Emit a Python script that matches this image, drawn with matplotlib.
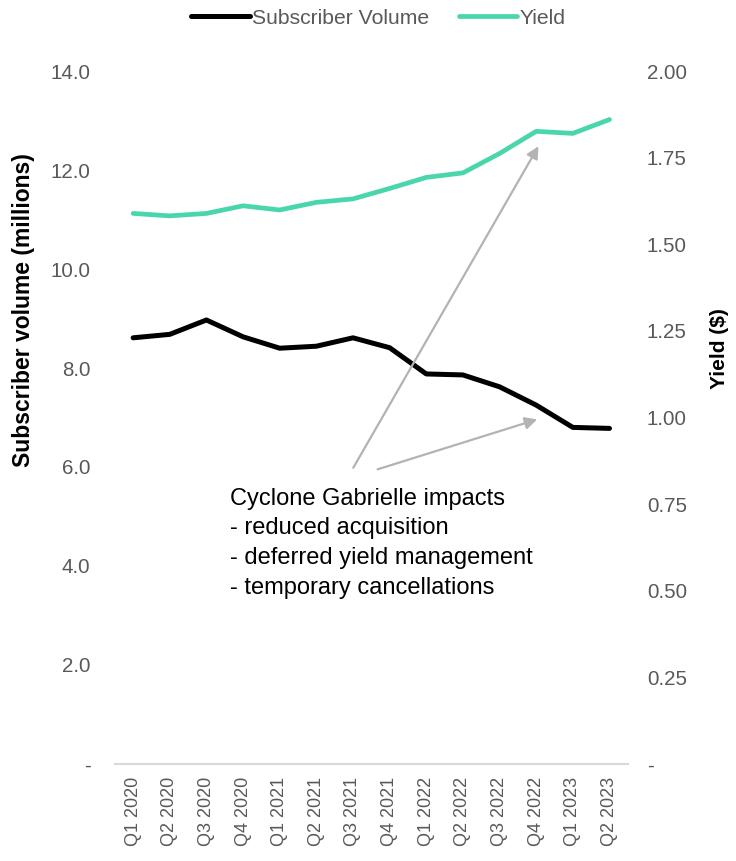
import matplotlib.pyplot as plt
from matplotlib.ticker import FuncFormatter

plt.rcParams['font.family'] = ['Liberation Sans', 'DejaVu Sans']

# quarters and values
quarters = ['Q1 2020', 'Q2 2020', 'Q3 2020', 'Q4 2020',
            'Q1 2021', 'Q2 2021', 'Q3 2021', 'Q4 2021',
            'Q1 2022', 'Q2 2022', 'Q3 2022', 'Q4 2022',
            'Q1 2023', 'Q2 2023']
subscribers = [8.61, 8.68, 8.97, 8.63, 8.40, 8.44, 8.61, 8.41,
               7.88, 7.86, 7.62, 7.25, 6.80, 6.78]
yield_usd = [1.589, 1.582, 1.589, 1.611, 1.599, 1.621, 1.631, 1.661,
             1.693, 1.706, 1.762, 1.826, 1.820, 1.860]

note = ('Cyclone Gabrielle impacts\n- reduced acquisition\n'
        '- deferred yield management\n- temporary cancellations')

grey = '#595959'
green = '#4ad6ad'
arrow_col = '#b3b3b3'

fig = plt.figure(figsize=(7.36, 8.61), dpi=100)
ax = fig.add_axes([0.156, 0.1127, 0.697, 0.8048])
ax2 = ax.twinx()

x = list(range(len(quarters)))
l1, = ax.plot(x, subscribers, color='black', lw=3.6, solid_capstyle='round',
              label='Subscriber Volume')
l2, = ax2.plot(x, yield_usd, color=green, lw=3.4, solid_capstyle='round',
               label='Yield')

ax.set_xlim(-0.5, len(quarters) - 0.5)
ax.set_ylim(0, 14)
ax2.set_ylim(0, 2)
ax.set_yticks([0, 2, 4, 6, 8, 10, 12, 14])
ax2.set_yticks([0, 0.25, 0.5, 0.75, 1.0, 1.25, 1.5, 1.75, 2.0])
ax.yaxis.set_major_formatter(FuncFormatter(lambda v, p: '-' if v == 0 else f'{v:.1f}'))
ax2.yaxis.set_major_formatter(FuncFormatter(lambda v, p: '-' if v == 0 else f'{v:.2f}'))
ax.set_xticks(x)
ax.set_xticklabels(quarters, rotation=90)

for a in (ax, ax2):
    for s in ('top', 'left', 'right'):
        a.spines[s].set_visible(False)
    a.spines['bottom'].set_color('#d9d9d9')
    a.spines['bottom'].set_linewidth(1.5)
    a.tick_params(length=0, colors=grey, labelsize=14.8)
ax.tick_params(axis='y', pad=17.5)
ax.tick_params(axis='x', pad=9.5, labelsize=13)
ax2.tick_params(axis='y', pad=13.7)

ax.set_ylabel('Subscriber volume (millions)', fontsize=16.5, fontweight='bold')
ax.yaxis.set_label_coords(-0.155, 0.655)
ax2.set_ylabel('Yield ($)', fontsize=15, fontweight='bold')
ax2.yaxis.set_label_coords(1.16, 0.600)

# annotation with arrows
arrow = dict(arrowstyle='-|>', color=arrow_col, lw=1.6, mutation_scale=18)
ax2.annotate('', xy=(11.1, 1.79), xytext=(5.97, 0.848),
             xycoords='data', arrowprops=arrow)
ax2.annotate('', xy=(11.1, 0.997), xytext=(6.6, 0.848),
             xycoords='data', arrowprops=arrow)
ax.text(2.65, 5.58, note, fontsize=17, color='black', va='top', ha='left',
        linespacing=1.45)

fig.legend(handles=[l1, l2], loc='upper center', bbox_to_anchor=(0.514, 1.012),
           ncol=2, frameon=False, fontsize=15.2, labelcolor=grey,
           handlelength=2.75, handletextpad=0.1, columnspacing=1.43)

fig.savefig('out.png', dpi=100)
